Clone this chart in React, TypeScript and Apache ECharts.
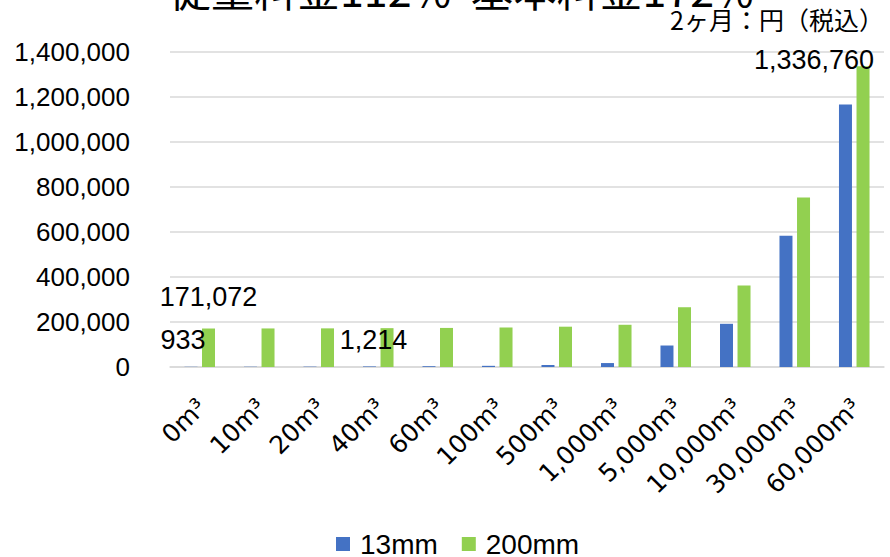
import React, { useEffect, useRef } from "react";
import * as echarts from "echarts";

const categories = ["0m³", "10m³", "20m³", "40m³", "60m³", "100m³", "500m³", "1,000m³", "5,000m³", "10,000m³", "30,000m³", "60,000m³"];
const seriesNames = ["13mm", "200mm"];
const values13 = [933, 1214, 1600, 2500, 3500, 5200, 9000, 17500, 95500, 192000, 583000, 1166620];
const values200 = [171072, 171353, 171740, 172640, 173640, 175340, 179140, 187640, 265640, 362140, 753140, 1336760];
const titleText = "従量料金112%  基本料金172%";
const unitText = "2ヶ月：円（税込）";
const yMax = 1400000;
const yStep = 200000;

const fmt = (v: number) => v.toLocaleString("en-US");
const JP = "'Noto Sans CJK JP', 'Noto Sans', sans-serif";
const LAT = "'Liberation Sans', Arial, sans-serif";

export default function App() {
  const ref = useRef<HTMLDivElement>(null);
  useEffect(() => {
    document.body.style.margin = "0";
    const chart = echarts.init(ref.current!, null, { renderer: "svg" });
    const labelBase = { show: true, position: "top", fontSize: 27, color: "#000", fontFamily: LAT, formatter: (p: any) => fmt(p.value) };
    const labels13: Record<number, any> = { 0: { offset: [-8, -8] }, 1: { offset: [123, -8] } };
    const labels200: Record<number, any> = { 0: { offset: [0, -13] }, 11: { offset: [-49, 12] } };
    const mk = (vals: number[], lbl: Record<number, any>) =>
      vals.map((v, i) => (lbl[i] ? { value: v, label: { ...labelBase, ...lbl[i] } } : { value: v }));
    chart.setOption({
      animation: false,
      title: [
        { text: titleText, left: 163, top: -39, textStyle: { fontSize: 43, fontWeight: "normal", color: "#000", fontFamily: JP } },
        { text: unitText, right: 1, top: 1, textStyle: { fontSize: 25, fontWeight: "normal", color: "#000", fontFamily: JP } },
      ],
      legend: {
        data: seriesNames,
        bottom: -1,
        left: 336,
        padding: 0,
        icon: "rect",
        itemWidth: 14,
        itemHeight: 14,
        itemGap: 24,
        textStyle: { fontSize: 28, color: "#000", fontFamily: LAT, padding: [0, 0, 0, 5] },
      },
      grid: { left: 170, right: 6, top: 52, bottom: 190, containLabel: false },
      xAxis: {
        type: "category",
        data: categories,
        axisLine: { lineStyle: { color: "#d9d9d9", width: 1.5 } },
        axisTick: { show: false },
        axisLabel: {
          rotate: 45,
          fontSize: 25,
          color: "#000",
          fontFamily: "'DejaVu Sans', sans-serif",
          margin: 38,
          padding: [0, -3, 0, 0],
          interval: 0,
        },
      },
      yAxis: {
        type: "value",
        min: 0,
        max: yMax,
        interval: yStep,
        axisLine: { show: false },
        axisTick: { show: false },
        splitLine: { lineStyle: { color: "#d9d9d9", width: 1.5 } },
        axisLabel: { fontSize: 26, color: "#000", fontFamily: LAT, margin: 40, formatter: (v: number) => fmt(v) },
      },
      series: [
        { name: seriesNames[0], type: "bar", data: mk(values13, labels13), barWidth: 13, barGap: "35%", itemStyle: { color: "#4472C4" } },
        { name: seriesNames[1], type: "bar", data: mk(values200, labels200), barWidth: 13, barGap: "35%", itemStyle: { color: "#92D050" } },
      ],
    });
    return () => chart.dispose();
  }, []);
  return <div ref={ref} style={{ position: "absolute", left: 0, top: 0, width: 890, height: 557 }} />;
}
